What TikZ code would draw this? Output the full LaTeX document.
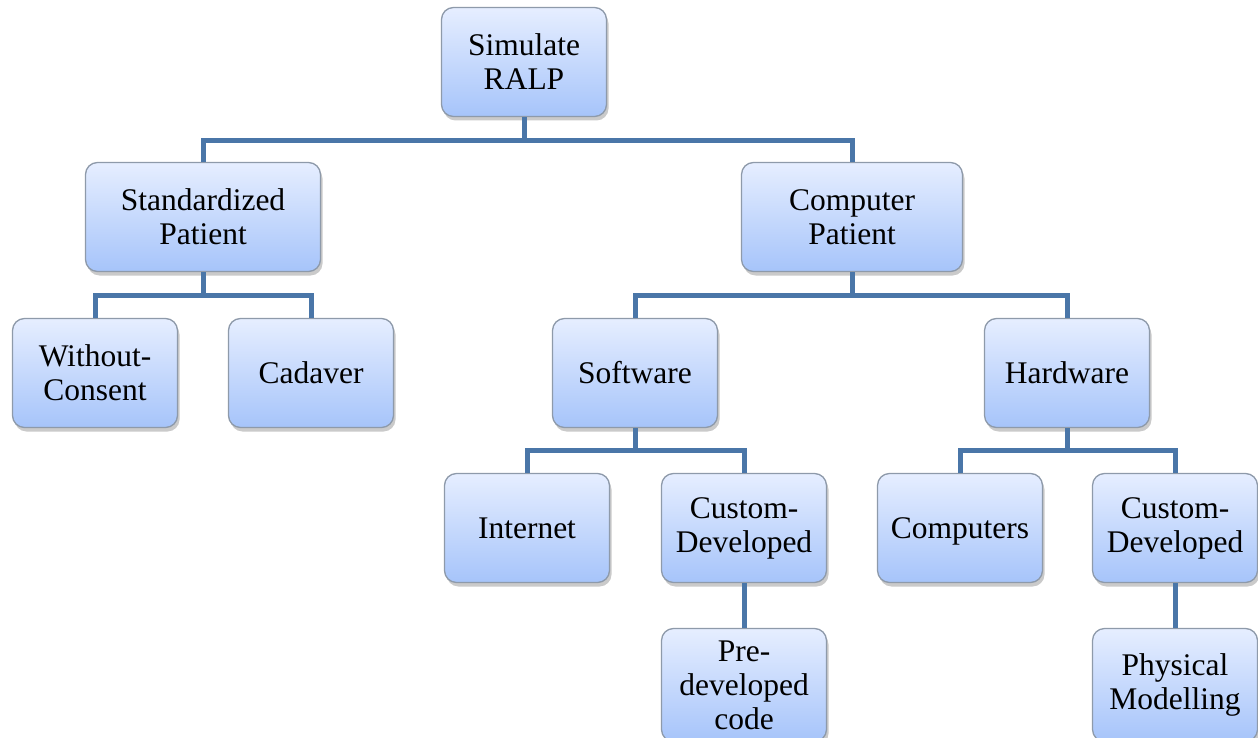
\documentclass[tikz,border=0pt]{standalone}
\usepackage{fontspec}
\setmainfont{Liberation Serif}
\usetikzlibrary{shadows}
\definecolor{boxtop}{HTML}{E6EEFF}
\definecolor{boxbot}{HTML}{A6C4FA}
\definecolor{boxline}{HTML}{8E9AAA}
\definecolor{connc}{HTML}{4A76A8}
\tikzset{
  tbox/.style={draw=boxline, line width=1.3pt, rounded corners=12pt,
    top color=boxtop, bottom color=boxbot, align=center,
    minimum width=165pt, minimum height=109pt, inner sep=2pt,
    font=\fontsize{31.5}{34}\selectfont,
    drop shadow={shadow xshift=2pt, shadow yshift=-4pt, opacity=0.35, fill=black!60}},
  conn/.style={draw=connc, line width=5pt}
}
\begin{document}
\begin{tikzpicture}[x=1pt,y=-1pt]
\useasboundingbox (0,0) rectangle (1258,738);
\node[tbox] (root) at (524,62) {Simulate\\RALP};
\node[tbox, minimum width=235pt] (std) at (203,217) {Standardized\\Patient};
\node[tbox, minimum width=221pt] (comp) at (852,217) {Computer\\Patient};
\node[tbox] (wc) at (95,373) {Without-\\Consent};
\node[tbox] (cad) at (311,373) {Cadaver};
\node[tbox] (sw) at (635,373) {Software};
\node[tbox] (hw) at (1067,373) {Hardware};
\node[tbox] (inet) at (527,528) {Internet};
\node[tbox] (csw) at (744,528) {Custom-\\Developed};
\node[tbox, text depth=0pt] (cpus) at (960,528) {Computers};
\node[tbox] (chw) at (1175,528) {Custom-\\Developed};
\node[tbox, minimum height=113pt] (pre) at (744,685) {Pre-\\developed\\code};
\node[tbox, minimum height=113pt] (phys) at (1175,685) {Physical\\Modelling};
\draw[conn] (root.south) -- ++(0,23) -| (std.north);
\draw[conn] (root.south) -- ++(0,23) -| (comp.north);
\draw[conn] (std.south) -- ++(0,23) -| (wc.north);
\draw[conn] (std.south) -- ++(0,23) -| (cad.north);
\draw[conn] (comp.south) -- ++(0,23) -| (sw.north);
\draw[conn] (comp.south) -- ++(0,23) -| (hw.north);
\draw[conn] (sw.south) -- ++(0,22) -| (inet.north);
\draw[conn] (sw.south) -- ++(0,22) -| (csw.north);
\draw[conn] (hw.south) -- ++(0,22) -| (cpus.north);
\draw[conn] (hw.south) -- ++(0,22) -| (chw.north);
\draw[conn] (csw.south) -- (pre.north);
\draw[conn] (chw.south) -- (phys.north);
\end{tikzpicture}
\end{document}
